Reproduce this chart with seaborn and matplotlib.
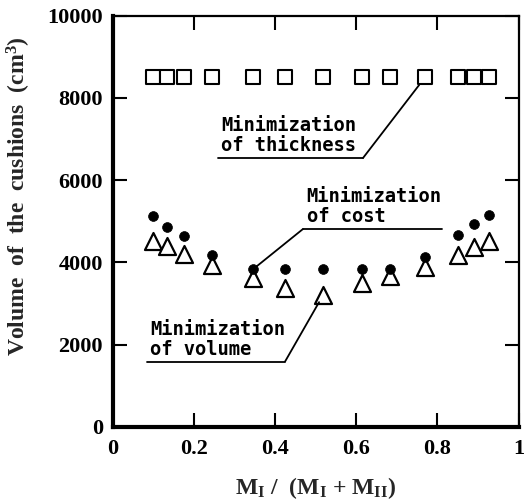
import matplotlib
matplotlib.use("Agg")
import matplotlib.pyplot as plt
import seaborn as sns
import pandas as pd
from matplotlib.lines import Line2D

# ---- data ----
ratio = [0.099, 0.135, 0.176, 0.246, 0.347, 0.425, 0.519, 0.615, 0.683, 0.770, 0.852, 0.891, 0.927]
vol_thickness = [8500] * 13
vol_cost = [5120, 4860, 4650, 4190, 3840, 3840, 3840, 3840, 3840, 4130, 4670, 4930, 5160]
vol_volume = [4515, 4405, 4210, 3945, 3620, 3375, 3210, 3500, 3660, 3900, 4185, 4375, 4510]
x_ticks = [0, 0.2, 0.4, 0.6, 0.8, 1]
x_ticklabels = ["0", "0.2", "0.4", "0.6", "0.8", "1"]
y_ticks = [0, 2000, 4000, 6000, 8000, 10000]
y_ticklabels = ["0", "2000", "4000", "6000", "8000", "10000"]

df_t = pd.DataFrame({"x": ratio, "y": vol_thickness})
df_c = pd.DataFrame({"x": ratio, "y": vol_cost})
df_v = pd.DataFrame({"x": ratio, "y": vol_volume})

sns.set_style("ticks")
plt.rcParams["font.family"] = ["Liberation Serif", "DejaVu Serif"]
plt.rcParams["font.weight"] = "bold"
plt.rcParams["mathtext.default"] = "regular"

W, H = 527, 503
fig = plt.figure(figsize=(W / 100, H / 100), dpi=100)
ax = fig.add_axes([112.5 / W, (H - 427) / H, 406 / W, 411.5 / H])

sns.scatterplot(data=df_t, x="x", y="y", ax=ax, marker="s", s=100,
                facecolor="white", edgecolor="black", linewidth=1.5, zorder=3)
sns.scatterplot(data=df_v, x="x", y="y", ax=ax, marker="^", s=150,
                facecolor="white", edgecolor="black", linewidth=1.6, zorder=3)
sns.scatterplot(data=df_c, x="x", y="y", ax=ax, marker="o", s=50,
                color="black", edgecolor="black", linewidth=0.5, zorder=4)

ax.set_xlim(0, 1)
ax.set_ylim(0, 10000)
ax.set_xticks(x_ticks)
ax.set_xticklabels(x_ticklabels)
ax.set_yticks(y_ticks)
ax.set_yticklabels(y_ticklabels)
ax.tick_params(axis="both", which="major", direction="in", length=10, width=1.5,
               top=True, right=True, labelsize=16, colors="black")
ax.tick_params(axis="x", pad=9)
ax.tick_params(axis="y", pad=7)
for side, lw in (("left", 3.0), ("bottom", 3.0), ("top", 1.6), ("right", 1.6)):
    ax.spines[side].set_visible(True)
    ax.spines[side].set_linewidth(lw)
    ax.spines[side].set_color("black")

ax.set_ylabel("Volume  of  the  cushions  (cm$^{3}$)", fontsize=17,
              fontweight="bold")
ax.yaxis.set_label_coords(-0.197, 0.56)
ax.set_xlabel("M$_{I}$ /  (M$_{I}$ + M$_{II}$)",
              fontsize=17, fontweight="bold", labelpad=11)

mono = dict(family="DejaVu Sans Mono", fontweight="bold", fontsize=13.5,
            linespacing=1.05, color="black")
line_kw = dict(color="black", lw=1.3)

# thickness
i_t = 9
ax.text(0.268, 0.662, "Minimization\nof thickness", transform=ax.transAxes,
        ha="left", va="bottom", **mono)
ax.add_line(Line2D([0.260, 0.617], [0.6537, 0.6537], transform=ax.transAxes, **line_kw))
ax.annotate("", xy=(ratio[i_t], vol_thickness[i_t]), xycoords="data",
            xytext=(0.617, 0.6537), textcoords="axes fraction",
            arrowprops=dict(arrowstyle="-", shrinkA=0, shrinkB=7, **line_kw))

# cost
i_c = 4
ax.text(0.478, 0.488, "Minimization\nof cost", transform=ax.transAxes,
        ha="left", va="bottom", **mono)
ax.add_line(Line2D([0.469, 0.811], [0.481, 0.481], transform=ax.transAxes, **line_kw))
ax.annotate("", xy=(ratio[i_c], vol_cost[i_c]), xycoords="data",
            xytext=(0.469, 0.481), textcoords="axes fraction",
            arrowprops=dict(arrowstyle="-", shrinkA=0, shrinkB=2, **line_kw))

# volume
i_v = 6
ax.text(0.092, 0.166, "Minimization\nof volume", transform=ax.transAxes,
        ha="left", va="bottom", **mono)
ax.add_line(Line2D([0.084, 0.425], [0.159, 0.159], transform=ax.transAxes, **line_kw))
ax.annotate("", xy=(ratio[i_v], vol_volume[i_v]), xycoords="data",
            xytext=(0.425, 0.159), textcoords="axes fraction",
            arrowprops=dict(arrowstyle="-", shrinkA=0, shrinkB=6, **line_kw))

fig.savefig("out.png", dpi=100)
